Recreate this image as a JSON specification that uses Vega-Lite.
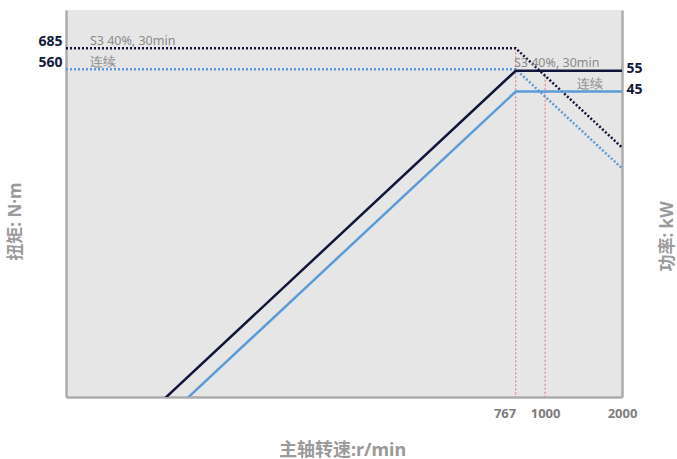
{
  "$schema": "https://vega.github.io/schema/vega-lite/v6.json",
  "width": 556,
  "height": 387,
  "autosize": "none",
  "padding": {"left": 66, "top": 10, "right": 55, "bottom": 62},
  "background": "#ffffff",
  "config": {
    "view": {"fill": "#e6e6e6", "stroke": null},
    "font": "Noto Sans"
  },
  "datasets": {
    "torque": [
      {"curve": "S3 40%, 30min", "n": 13.3, "torque": 685},
      {"curve": "S3 40%, 30min", "n": 767, "torque": 685},
      {"curve": "S3 40%, 30min", "n": 2000, "torque": 262.7},
      {"curve": "连续", "n": 13.3, "torque": 560},
      {"curve": "连续", "n": 767, "torque": 560},
      {"curve": "连续", "n": 2000, "torque": 214.8}
    ],
    "power": [
      {"curve": "S3 40%, 30min", "n": 30, "power": 2.15},
      {"curve": "S3 40%, 30min", "n": 767, "power": 55},
      {"curve": "S3 40%, 30min", "n": 2000, "power": 55},
      {"curve": "连续", "n": 36, "power": 2.11},
      {"curve": "连续", "n": 767, "power": 45},
      {"curve": "连续", "n": 2000, "power": 45}
    ],
    "markers": [
      {"n": 767, "torque": 685},
      {"n": 1000, "torque": 525}
    ],
    "torqueLabels": [
      {"label": "S3 40%, 30min", "n": 16.5, "torque": 685},
      {"label": "连续", "n": 16.5, "torque": 560}
    ],
    "powerLabels": [
      {"label": "S3 40%, 30min", "n": 755, "power": 55},
      {"label": "连续", "n": 1333, "power": 45}
    ]
  },
  "layer": [
    {
      "layer": [
        {
          "data": {"name": "markers"},
          "mark": {"type": "rule", "color": "#e8707f", "strokeWidth": 1, "strokeDash": [2, 2], "clip": true},
          "encoding": {
            "x": {
              "field": "n", "type": "quantitative",
              "scale": {"type": "log", "domain": [13.3, 2000], "nice": false, "zero": false},
              "axis": {
                "values": [767, 1000, 2000],
                "format": "d",
                "grid": false,
                "ticks": false,
                "domain": true,
                "domainColor": "#acacac",
                "domainWidth": 2.5,
                "labelColor": "#7e7e7e",
                "labelFontSize": 13,
                "labelFontWeight": "bold",
                "labelPadding": 10,
                "labelFlush": false,
                "labelOverlap": false,
                "labelAlign": {"condition": {"test": "datum.value == 767", "value": "right"}, "value": "center"},
                "title": "主轴转速:r/min",
                "titleFont": "'Noto Sans', 'Noto Sans CJK SC'",
                "titleFontSize": 18,
                "titleFontWeight": "bold",
                "titleColor": "#9a9a9a",
                "titleX": 276,
                "titleY": 53,
                "titleAlign": "center",
                "titleBaseline": "middle"
              }
            },
            "y": {
              "field": "torque", "type": "quantitative",
              "scale": {"type": "log", "domain": [23.6, 991.6], "nice": false, "zero": false},
              "axis": {
                "orient": "left",
                "values": [560, 685],
                "format": "d",
                "grid": false,
                "ticks": false,
                "domain": true,
                "domainColor": "#acacac",
                "domainWidth": 2.5,
                "labelColor": "#141a3c",
                "labelFontSize": 14,
                "labelFontWeight": "bold",
                "labelOffset": -7,
                "labelPadding": 4,
                "title": "扭矩: N·m",
                "titleFont": "'Noto Sans', 'Noto Sans CJK SC'",
                "titleFontSize": 17,
                "titleFontWeight": "bold",
                "titleColor": "#9a9a9a",
                "titleAngle": -90,
                "titleX": -51,
                "titleY": 211,
                "titleAlign": "center",
                "titleBaseline": "middle"
              }
            },
            "y2": {"datum": 23.6}
          }
        },
        {
          "data": {"name": "torque"},
          "mark": {"type": "line", "strokeWidth": 2.5, "strokeDash": [2, 2], "clip": true},
          "encoding": {
            "x": {"field": "n", "type": "quantitative"},
            "y": {"field": "torque", "type": "quantitative"},
            "color": {
              "field": "curve", "type": "nominal",
              "scale": {"domain": ["S3 40%, 30min", "连续"], "range": ["#10153a", "#5b9bd8"]},
              "legend": null
            }
          }
        },
        {
          "data": {"name": "torqueLabels"},
          "mark": {"type": "text", "align": "left", "baseline": "middle", "dy": -7.5, "fontSize": 12.5, "color": "#8a8a8a"},
          "encoding": {
            "x": {"field": "n", "type": "quantitative"},
            "y": {"field": "torque", "type": "quantitative"},
            "text": {"field": "label"}
          }
        }
      ]
    },
    {
      "layer": [
        {
          "data": {"name": "power"},
          "mark": {"type": "line", "strokeWidth": 2.5, "clip": true},
          "encoding": {
            "x": {"field": "n", "type": "quantitative"},
            "y": {
              "field": "power", "type": "quantitative",
              "scale": {"type": "log", "domain": [2.355, 98.9], "nice": false, "zero": false},
              "axis": {
                "orient": "right",
                "values": [45, 55],
                "format": "d",
                "grid": false,
                "ticks": false,
                "domain": true,
                "domainColor": "#acacac",
                "domainWidth": 2.5,
                "labelColor": "#141a3c",
                "labelFontSize": 14,
                "labelFontWeight": "bold",
                "labelOffset": -2,
                "labelPadding": 4,
                "title": "功率: kW",
                "titleFont": "'Noto Sans', 'Noto Sans CJK SC'",
                "titleFontSize": 17,
                "titleFontWeight": "bold",
                "titleColor": "#9a9a9a",
                "titleAngle": -90,
                "titleX": 45,
                "titleY": 226,
                "titleAlign": "center",
                "titleBaseline": "middle"
              }
            },
            "color": {
              "field": "curve", "type": "nominal",
              "scale": {"domain": ["S3 40%, 30min", "连续"], "range": ["#10153a", "#5b9bd8"]},
              "legend": null
            }
          }
        },
        {
          "data": {"name": "powerLabels"},
          "mark": {"type": "text", "align": "left", "baseline": "middle", "dy": -7.5, "fontSize": 12.5, "color": "#8a8a8a"},
          "encoding": {
            "x": {"field": "n", "type": "quantitative"},
            "y": {"field": "power", "type": "quantitative"},
            "text": {"field": "label"}
          }
        }
      ]
    }
  ],
  "resolve": {"scale": {"y": "independent", "color": "independent"}}
}
